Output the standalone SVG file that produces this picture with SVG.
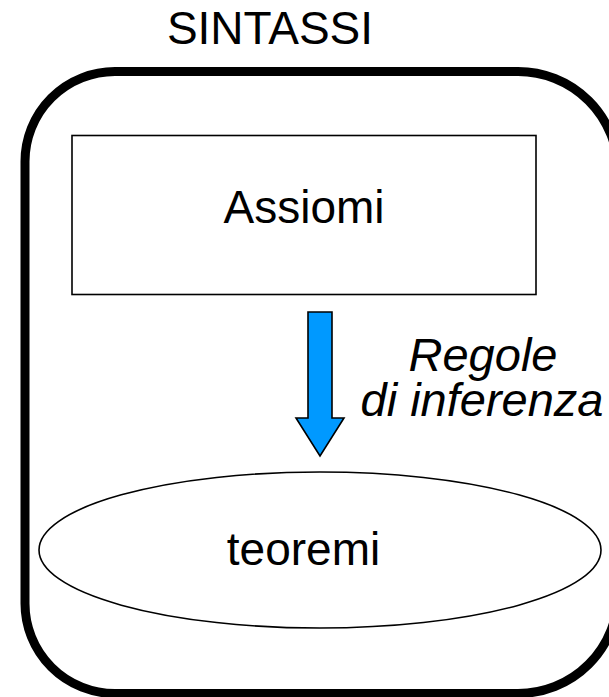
<svg xmlns="http://www.w3.org/2000/svg" width="609" height="697" viewBox="0 0 609 697">
<style>
text{font-family:"Liberation Sans",Arial,sans-serif;font-size:46px;fill:#000}
.it{font-style:italic;font-size:47px}
.thin{fill:#fff;stroke:#000;stroke-width:1.6}
</style>
<rect width="609" height="697" fill="#fff"/>
<g id="sintassi">
<path d="M115,71.5 H518 A100,100 0 0 1 618,171.5 V593.5 A100,100 0 0 1 518,693.5 H115 A90,90 0 0 1 25,603.5 V161.5 A90,90 0 0 1 115,71.5 Z" fill="none" stroke="#000" stroke-width="9"/>
<text x="270" y="43.5" text-anchor="middle">SINTASSI</text>
</g>
<g id="assiomi">
<rect class="thin" x="72" y="135.5" width="464" height="159"/>
<text x="304" y="223" text-anchor="middle">Assiomi</text>
</g>
<g id="teoremi">
<ellipse class="thin" cx="320" cy="550" rx="281" ry="78"/>
<text x="303.5" y="565" text-anchor="middle">teoremi</text>
</g>
<g id="connectors">
<path d="M308,312 H332 V418 H344 L320,456 L296,418 H308 Z" fill="#0099ff" stroke="#000" stroke-width="1.6" stroke-linejoin="miter"/>
<text class="it" x="483" y="371" text-anchor="middle">Regole</text>
<text class="it" x="482" y="416" text-anchor="middle">di inferenza</text>
</g>
</svg>
